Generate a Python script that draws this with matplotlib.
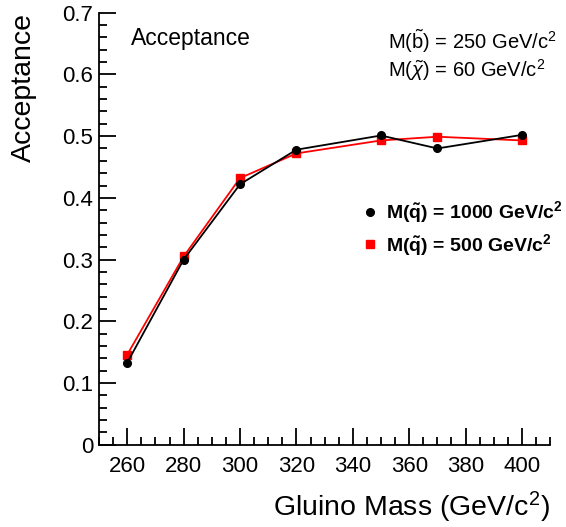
import matplotlib
matplotlib.use("Agg")
import matplotlib.pyplot as plt
from matplotlib.ticker import MultipleLocator

# data
gluino_mass = [260, 280, 300, 320, 350, 370, 400]
acc_sq1000 = [0.133, 0.300, 0.422, 0.478, 0.501, 0.480, 0.502]
acc_sq500 = [0.146, 0.305, 0.432, 0.472, 0.493, 0.499, 0.493]

plt.rcParams["font.family"] = ["Liberation Sans", "DejaVu Sans"]
plt.rcParams["mathtext.fontset"] = "custom"
plt.rcParams["mathtext.rm"] = "Liberation Sans"
plt.rcParams["mathtext.it"] = "Liberation Sans:italic"
plt.rcParams["mathtext.bf"] = "Liberation Sans:bold"


def main():
    fig = plt.figure(figsize=(5.66, 5.27), dpi=100)
    ax = fig.add_axes([0.175, 0.156, 0.797, 0.820])

    ax.plot(gluino_mass, acc_sq1000, color="black", lw=1.3, marker="o",
            ms=5.5, label=r"M($\mathbf{\tilde{q}}$) = 1000 GeV/c$^\mathbf{2}$",
            zorder=3)
    ax.plot(gluino_mass, acc_sq500, color="red", lw=1.3, marker="s",
            ms=5.5, label=r"M($\mathbf{\tilde{q}}$) = 500 GeV/c$^\mathbf{2}$",
            zorder=2)

    ax.set_xlim(250, 410)
    ax.set_ylim(0, 0.7)
    ax.xaxis.set_major_locator(MultipleLocator(20))
    ax.xaxis.set_minor_locator(MultipleLocator(5))
    ax.yaxis.set_major_locator(MultipleLocator(0.1))
    ax.yaxis.set_minor_locator(MultipleLocator(0.02))
    ax.yaxis.set_major_formatter(plt.FuncFormatter(lambda v, p: f"{v:g}"))

    for side in ["top", "right"]:
        ax.spines[side].set_visible(False)
    for side in ["left", "bottom"]:
        ax.spines[side].set_linewidth(1.3)

    ax.tick_params(which="major", direction="in", length=12, width=1.3,
                   labelsize=16)
    ax.tick_params(axis="y", which="major", pad=4)
    ax.tick_params(axis="x", which="major", pad=8)
    ax.tick_params(which="minor", direction="in", length=6, width=1.3)

    ax.set_xlabel(r"Gluino Mass (GeV/c$^2$)", fontsize=20.5, loc="right",
                  labelpad=9)
    ax.set_ylabel("Acceptance", fontsize=20.5, loc="top")
    ax.yaxis.set_label_coords(-0.138, 1.0)

    ax.text(0.07, 0.94, "Acceptance", transform=ax.transAxes, fontsize=16.5,
            va="center")
    ax.text(0.64, 0.935, r"M($\tilde{\mathrm{b}}$) = 250 GeV/c$^2$",
            transform=ax.transAxes, fontsize=14.5, va="center")
    ax.text(0.64, 0.868, r"M($\tilde{\chi}$) = 60 GeV/c$^2$",
            transform=ax.transAxes, fontsize=14.5, va="center")

    leg = ax.legend(loc="center left", bbox_to_anchor=(0.545, 0.50),
                    frameon=False, prop={"weight": "bold", "size": 14},
                    handlelength=0.8, handletextpad=0.4, labelspacing=0.35,
                    numpoints=1)
    for h in leg.legend_handles:
        h.set_linestyle("none")

    fig.savefig("out.png", dpi=100)


if __name__ == "__main__":
    main()
